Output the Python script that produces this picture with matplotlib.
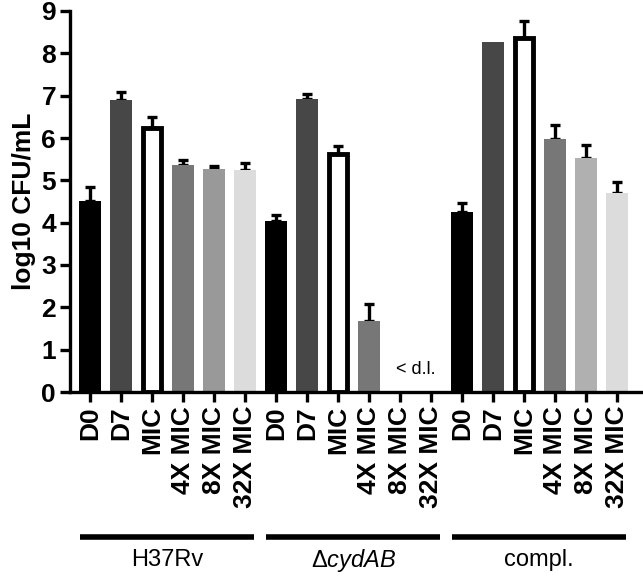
import matplotlib
matplotlib.use("Agg")
import matplotlib.pyplot as plt
import matplotlib.transforms as mtransforms
import numpy as np

plt.rcParams['font.family'] = ['Liberation Sans', 'DejaVu Sans']
plt.rcParams['mathtext.fontset'] = 'custom'
plt.rcParams['mathtext.rm'] = 'Liberation Sans'
plt.rcParams['mathtext.it'] = 'Liberation Sans:italic'

conditions = ["D0", "D7", "MIC", "4X MIC", "8X MIC", "32X MIC"]
strains = ["H37Rv", r"$\Delta\mathit{cydAB}$", "compl."]

h37rv_mean = [4.51, 6.90, 6.24, 5.37, 5.27, 5.24]
h37rv_err = [0.34, 0.18, 0.26, 0.10, 0.06, 0.16]
cyd_mean = [4.04, 6.92, 5.62, 1.68, np.nan, np.nan]
cyd_err = [0.14, 0.13, 0.20, 0.40, 0.0, 0.0]
compl_mean = [4.25, 8.27, 8.36, 5.98, 5.52, 4.69]
compl_err = [0.22, 0.0, 0.41, 0.32, 0.31, 0.27]

colors = {
    "H37Rv": ["#000000", "#474747", "#ffffff", "#777777", "#999999", "#dcdcdc"],
    "cyd": ["#000000", "#474747", "#ffffff", "#777777", "#999999", "#dcdcdc"],
    "compl": ["#000000", "#474747", "#ffffff", "#777777", "#b0b0b0", "#dcdcdc"],
}

means = h37rv_mean + cyd_mean + compl_mean
errs = h37rv_err + cyd_err + compl_err
bar_colors = colors["H37Rv"] + colors["cyd"] + colors["compl"]
labels = conditions * 3
x = np.arange(len(means))

fig = plt.figure(figsize=(6.43, 5.76), dpi=100)
ax = fig.add_axes([70 / 643, (576 - 392) / 576, 1 - 70 / 643, (392 - 11) / 576])

for i in range(len(means)):
    if np.isnan(means[i]):
        continue
    if bar_colors[i] == "#ffffff":
        ax.bar(x[i], means[i], width=0.58, color="white", edgecolor="black",
               linewidth=3.5, zorder=2)
    else:
        ax.bar(x[i], means[i], width=0.7, color=bar_colors[i], zorder=2)
    if errs[i] > 0:
        ax.errorbar(x[i], means[i], yerr=[[0], [errs[i]]], fmt="none",
                    ecolor="black", elinewidth=2.4, capsize=3.5, capthick=2.4,
                    zorder=1)

ax.text(10.5, 0.52, "< d.l.", ha="center", va="center", fontsize=13)

ax.set_xlim(-0.65, 17.84)
ax.set_ylim(0, 9)
ax.set_yticks(range(0, 10))
ax.set_xticks(x)
ax.set_xticklabels(labels, rotation=90, fontsize=19, fontweight="bold")
for t in ax.get_yticklabels():
    t.set_fontsize(19)
    t.set_fontweight("bold")
ax.set_ylabel("log10 CFU/mL", fontsize=19, fontweight="bold", labelpad=4)

for s in ["top", "right"]:
    ax.spines[s].set_visible(False)
for s in ["left", "bottom"]:
    ax.spines[s].set_linewidth(2.4)
ax.tick_params(axis="both", direction="out", width=2.4, length=7, pad=3)

# group bars under the tick labels
trans = mtransforms.blended_transform_factory(ax.transData, fig.transFigure)
line_y = (576 - 537) / 576
text_y = (576 - 560) / 576
for g in range(3):
    x0 = g * 6 - 0.32
    x1 = g * 6 + 5.3
    ax.plot([x0, x1], [line_y, line_y], color="black", linewidth=4,
            transform=trans, clip_on=False, solid_capstyle="butt")
    ax.text((x0 + x1) / 2, text_y, strains[g], ha="center", va="center",
            fontsize=17, transform=trans)

plt.savefig("out.png", dpi=100)
